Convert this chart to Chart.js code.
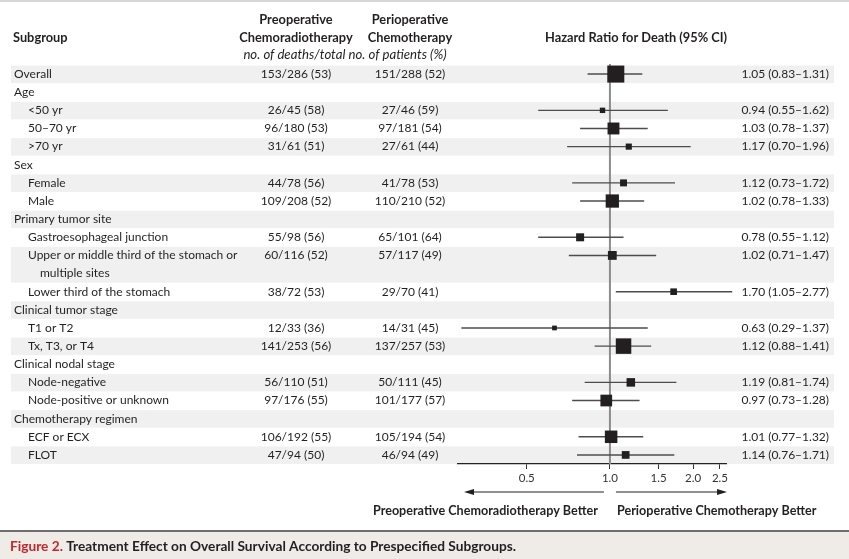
<!DOCTYPE html>
<html>
<head>
<meta charset="utf-8">
<script src="https://cdn.jsdelivr.net/npm/chart.js@4.4.0/dist/chart.umd.min.js"></script>
<style>
  html, body { margin: 0; padding: 0; background: #fff; }
  #forest { display: block; }
</style>
</head>
<body>
<canvas id="forest" width="849" height="559"></canvas>
<script>
'use strict' ;

// one entry per text line of the table (the "Upper or middle ..." subgroup takes two lines)
const labels = [
  'Overall','Age','<50 yr','50–70 yr','>70 yr','Sex','Female','Male',
  'Primary tumor site','Gastroesophageal junction','Upper or middle third of the stomach or','multiple sites',
  'Lower third of the stomach','Clinical tumor stage','T1 or T2','Tx, T3, or T4',
  'Clinical nodal stage','Node-negative','Node-positive or unknown',
  'Chemotherapy regimen','ECF or ECX','FLOT'
] ;
const level = [0,0,1,1,1,0,1,1,0,1,1,2,1,0,1,1,0,1,1,0,1,1] ;
// lines that start a new shaded/unshaded row
const rowStart = [1,1,1,1,1,1,1,1,1,1,1,0,1,1,1,1,1,1,1,1,1,1] ;

const preDeaths = [153,null,26,96,31,null,44,109,null,55,60,null,38,null,12,141,null,56,97,null,106,47] ;
const preTotal  = [286,null,45,180,61,null,78,208,null,98,116,null,72,null,33,253,null,110,176,null,192,94] ;
const prePct    = [53,null,58,53,51,null,56,52,null,56,52,null,53,null,36,56,null,51,55,null,55,50] ;
const periDeaths = [151,null,27,97,27,null,41,110,null,65,57,null,29,null,14,137,null,50,101,null,105,46] ;
const periTotal  = [288,null,46,181,61,null,78,210,null,101,117,null,70,null,31,257,null,111,177,null,194,94] ;
const periPct    = [52,null,59,54,44,null,53,52,null,64,49,null,41,null,45,53,null,45,57,null,54,49] ;

const hr   = [1.05,null,0.94,1.03,1.17,null,1.12,1.02,null,0.78,1.02,null,1.70,null,0.63,1.12,null,1.19,0.97,null,1.01,1.14] ;
const hrLo = [0.83,null,0.55,0.78,0.70,null,0.73,0.78,null,0.55,0.71,null,1.05,null,0.29,0.88,null,0.81,0.73,null,0.77,0.76] ;
const hrHi = [1.31,null,1.62,1.37,1.96,null,1.72,1.33,null,1.12,1.47,null,2.77,null,1.37,1.41,null,1.74,1.28,null,1.32,1.71] ;

const xTicks = [0.5,1.0,1.5,2.0,2.5] ;

const FONT = 'Lato' ;
const INK = '#231f20' ;

// build datasets from the arrays
let squares = [] ;
let sizes = [] ;
let ciLines = [] ;
for (let i = 0 ; i < labels.length ; i++)
{
  if (hr[i] === null) continue ;
  squares.push({ x: hr[i], y: i }) ;
  let side = 3.2 + 0.0241 * (preTotal[i] + periTotal[i]) ;
  sizes.push(side / Math.SQRT2) ;
  ciLines.push({ x: hrLo[i], y: i }, { x: hrHi[i], y: i }, { x: null, y: null }) ;
}

function fmt2 (v) { return v.toFixed(2) ; }

const tablePlugin = {
  id: 'table',
  beforeDraw (chart)
  {
    const ctx = chart.ctx ;
    const y = chart.scales.y ;
    ctx.save() ;
    // thin rule at the very top
    ctx.fillStyle = '#d6d6d6' ;
    ctx.fillRect(0, 0, chart.width, 2) ;
    // alternating row shading
    let row = -1 ;
    for (let i = 0 ; i < labels.length ; i++)
    {
      if (!rowStart[i]) continue ;
      row++ ;
      let j = i ;
      while (j + 1 < labels.length && !rowStart[j + 1]) j++ ;
      if (row % 2 === 0)
      {
        let top = y.getPixelForValue(i) - 8.5 ;
        let bot = y.getPixelForValue(j) + 9 ;
        ctx.fillStyle = '#f0f0f0' ;
        ctx.fillRect(11, top, 834 - 11, bot - top) ;
      }
    }
    ctx.restore() ;
  },
  beforeDatasetsDraw (chart)
  {
    const ctx = chart.ctx ;
    const x = chart.scales.x ;
    const area = chart.chartArea ;
    let px = x.getPixelForValue(1) ;
    ctx.save() ;
    ctx.strokeStyle = '#8c8c8c' ;
    ctx.lineWidth = 2 ;
    ctx.beginPath() ;
    ctx.moveTo(px, area.top - 1) ;
    ctx.lineTo(px, area.bottom) ;
    ctx.stroke() ;
    ctx.restore() ;
  },
  afterDraw (chart)
  {
    const ctx = chart.ctx ;
    const x = chart.scales.x ;
    const y = chart.scales.y ;
    const area = chart.chartArea ;
    ctx.save() ;
    ctx.fillStyle = INK ;
    ctx.textBaseline = 'middle' ;

    // headers
    ctx.font = 'bold 12.8px ' + FONT ;
    ctx.textAlign = 'left' ;
    ctx.fillText('Subgroup', 13, 38) ;
    ctx.textAlign = 'center' ;
    ctx.fillText('Preoperative', 296, 20) ;
    ctx.fillText('Chemoradiotherapy', 296, 38) ;
    ctx.fillText('Perioperative', 410, 20) ;
    ctx.fillText('Chemotherapy', 410, 38) ;
    ctx.fillText('Hazard Ratio for Death (95% CI)', 636, 38) ;
    ctx.font = 'italic 13.2px ' + FONT ;
    ctx.fillText('no. of deaths/total no. of patients (%)', 345, 55) ;

    // table body
    ctx.font = '12px ' + FONT ;
    for (let i = 0 ; i < labels.length ; i++)
    {
      let py = y.getPixelForValue(i) ;
      ctx.textAlign = 'left' ;
      ctx.fillText(labels[i], 14 + level[i] * 14 - (level[i] === 2 ? 2 : 0), py) ;
      ctx.textAlign = 'center' ;
      if (preDeaths[i] !== null)
        ctx.fillText(preDeaths[i] + '/' + preTotal[i] + ' (' + prePct[i] + ')', 296, py) ;
      if (periDeaths[i] !== null)
        ctx.fillText(periDeaths[i] + '/' + periTotal[i] + ' (' + periPct[i] + ')', 410, py) ;
      if (hr[i] !== null)
      {
        ctx.textAlign = 'right' ;
        ctx.fillText(fmt2(hr[i]) + ' (' + fmt2(hrLo[i]) + '–' + fmt2(hrHi[i]) + ')', 829, py) ;
      }
    }

    // direction arrows
    let p1 = x.getPixelForValue(1) ;
    let ay = 492 ;
    ctx.strokeStyle = INK ;
    ctx.lineWidth = 1.2 ;
    ctx.beginPath() ;
    ctx.moveTo(p1 - 6, ay) ; ctx.lineTo(area.left + 12, ay) ;
    ctx.moveTo(p1 + 6, ay) ; ctx.lineTo(area.right - 6, ay) ;
    ctx.stroke() ;
    ctx.beginPath() ;
    ctx.moveTo(area.left + 6, ay) ; ctx.lineTo(area.left + 16, ay - 3) ; ctx.lineTo(area.left + 16, ay + 3) ;
    ctx.closePath() ;
    ctx.moveTo(area.right + 1, ay) ; ctx.lineTo(area.right - 9, ay - 3) ; ctx.lineTo(area.right - 9, ay + 3) ;
    ctx.closePath() ;
    ctx.fill() ;

    ctx.font = 'bold 12.6px ' + FONT ;
    ctx.textAlign = 'right' ;
    ctx.fillText('Preoperative Chemoradiotherapy Better', p1 - 12, 511) ;
    ctx.textAlign = 'left' ;
    ctx.fillText('Perioperative Chemotherapy Better', p1 + 7, 511) ;

    // caption band
    ctx.fillStyle = '#efebe6' ;
    ctx.fillRect(0, 531, chart.width, chart.height - 531) ;
    ctx.fillStyle = '#6e6e6e' ;
    ctx.fillRect(0, 530, chart.width, 2) ;
    ctx.font = 'bold 13.7px ' + FONT ;
    ctx.textAlign = 'left' ;
    ctx.fillStyle = '#c1272d' ;
    let lead = 'Figure 2. ' ;
    ctx.fillText(lead, 10, 547) ;
    let w = ctx.measureText(lead).width ;
    ctx.fillStyle = INK ;
    ctx.fillText('Treatment Effect on Overall Survival According to Prespecified Subgroups.', 10 + w, 547) ;
    ctx.restore() ;
  }
} ;

let ctx = document.getElementById('forest').getContext('2d') ;
let forest = new Chart(ctx, {
  type: 'scatter',
  data: {
    datasets: [
      {
        label: 'HR',
        data: squares,
        pointStyle: 'rect',
        pointRadius: sizes,
        pointHoverRadius: sizes,
        pointBorderWidth: 0,
        backgroundColor: INK,
        borderColor: INK,
        order: 0
      },
      {
        label: '95% CI',
        data: ciLines,
        showLine: true,
        spanGaps: false,
        pointRadius: 0,
        pointHoverRadius: 0,
        borderColor: '#4d4d4d',
        borderWidth: 1.4,
        clip: false,
        order: 1
      }
    ]
  },
  options: {
    responsive: false,
    devicePixelRatio: 1,
    animation: false,
    events: [],
    layout: { padding: { left: 458, right: 849 - 726, top: 65, bottom: 559 - 464 - 24 } },
    plugins: { legend: { display: false }, tooltip: { enabled: false } },
    scales: {
      x: {
        type: 'logarithmic',
        min: 0.282,
        max: 2.63,
        afterBuildTicks: (s) => { s.ticks = xTicks.map(v => ({ value: v })) ; },
        afterFit: (s) => { s.height = 24 ; },
        ticks: {
          callback: (v) => Number(v).toFixed(1),
          color: '#333',
          font: { family: FONT, size: 11.5 },
          padding: 2,
          autoSkip: false,
          maxRotation: 0
        },
        grid: { drawOnChartArea: false, drawTicks: true, tickLength: 5, tickColor: '#333', tickWidth: 1 },
        border: { display: true, color: '#222', width: 1.3 }
      },
      y: {
        type: 'linear',
        min: -0.5,
        max: labels.length - 0.5,
        reverse: true,
        display: false
      }
    }
  },
  plugins: [tablePlugin]
});
</script>
</body>
</html>
